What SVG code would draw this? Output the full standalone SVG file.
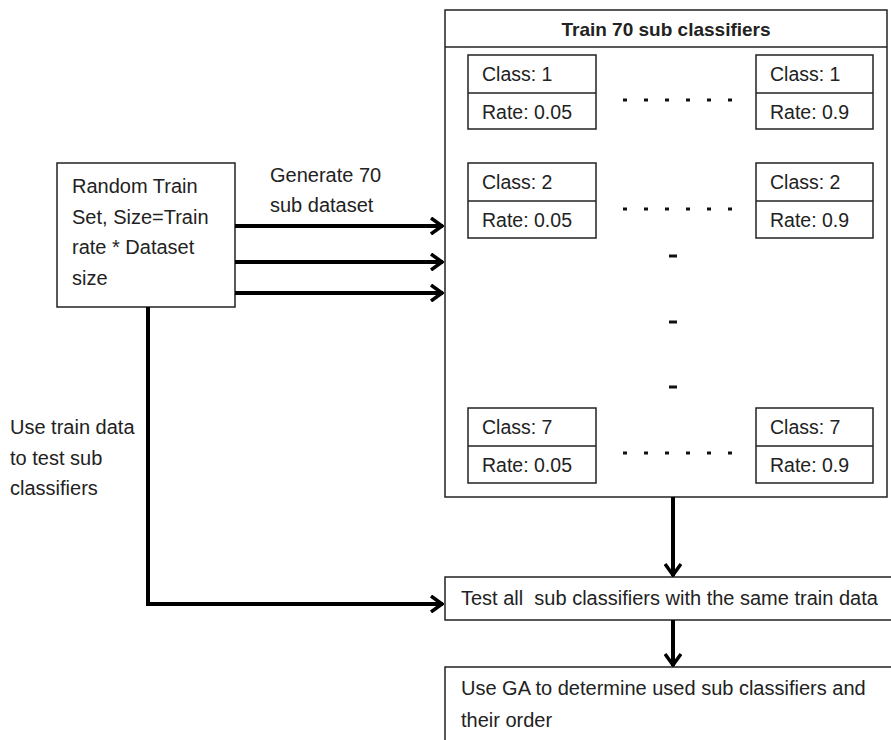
<svg xmlns="http://www.w3.org/2000/svg" width="891" height="740" viewBox="0 0 891 740">
<defs>
<style>
.box{fill:#fff;stroke:#222;stroke-width:1.5}
.t{font-family:"Liberation Sans",Arial,sans-serif;font-size:20px;fill:#222;dominant-baseline:central}
.s{font-size:19.5px}
.b{font-weight:bold;text-anchor:middle;font-size:19px}
.conn{fill:none;stroke:#000;stroke-width:4}
.dot{fill:#111}
</style>
<marker id="ah" viewBox="0 0 14 18" refX="13" refY="9" markerWidth="14" markerHeight="18" markerUnits="userSpaceOnUse" orient="auto">
<path d="M1,1 L12,9 L1,17" fill="none" stroke="#000" stroke-width="3.5"/>
</marker>
</defs>
<rect width="891" height="740" fill="#fff"/>

<g id="random-train-set">
<rect class="box" x="57" y="163" width="178" height="144"/>
<text class="t" x="72" y="186">Random Train</text>
<text class="t" x="72" y="217">Set, Size=Train</text>
<text class="t" x="72" y="247">rate * Dataset</text>
<text class="t" x="72" y="278">size</text>
</g>

<g id="train-70">
<rect class="box" x="445" y="10" width="442" height="487"/>
<line x1="445" y1="47" x2="887" y2="47" stroke="#222" stroke-width="1.5"/>
<text class="t b" x="666" y="29">Train 70 sub classifiers</text>
</g>

<g id="c1-005">
<rect class="box" x="468" y="55" width="128" height="74"/>
<line x1="468" y1="93" x2="596" y2="93" stroke="#222" stroke-width="1.5"/>
<text class="t s" x="482" y="74">Class: 1</text>
<text class="t s" x="482" y="112">Rate: 0.05</text>
</g>
<g id="c1-09">
<rect class="box" x="756" y="55" width="117" height="74"/>
<line x1="756" y1="93" x2="873" y2="93" stroke="#222" stroke-width="1.5"/>
<text class="t s" x="770" y="74">Class: 1</text>
<text class="t s" x="770" y="112">Rate: 0.9</text>
</g>
<g id="c2-005">
<rect class="box" x="468" y="163" width="128" height="75"/>
<line x1="468" y1="201" x2="596" y2="201" stroke="#222" stroke-width="1.5"/>
<text class="t s" x="482" y="182">Class: 2</text>
<text class="t s" x="482" y="220">Rate: 0.05</text>
</g>
<g id="c2-09">
<rect class="box" x="756" y="163" width="117" height="75"/>
<line x1="756" y1="201" x2="873" y2="201" stroke="#222" stroke-width="1.5"/>
<text class="t s" x="770" y="182">Class: 2</text>
<text class="t s" x="770" y="220">Rate: 0.9</text>
</g>
<g id="c7-005">
<rect class="box" x="468" y="408" width="128" height="75"/>
<line x1="468" y1="446" x2="596" y2="446" stroke="#222" stroke-width="1.5"/>
<text class="t s" x="482" y="427">Class: 7</text>
<text class="t s" x="482" y="465">Rate: 0.05</text>
</g>
<g id="c7-09">
<rect class="box" x="756" y="408" width="117" height="75"/>
<line x1="756" y1="446" x2="873" y2="446" stroke="#222" stroke-width="1.5"/>
<text class="t s" x="770" y="427">Class: 7</text>
<text class="t s" x="770" y="465">Rate: 0.9</text>
</g>

<g id="ellipses">
<g class="dot">
<rect x="623" y="98.5" width="4" height="3"/><rect x="644" y="98.5" width="4" height="3"/><rect x="665" y="98.5" width="4" height="3"/><rect x="686" y="98.5" width="4" height="3"/><rect x="707" y="98.5" width="4" height="3"/><rect x="728" y="98.5" width="4" height="3"/>
<rect x="623" y="207.5" width="4" height="3"/><rect x="644" y="207.5" width="4" height="3"/><rect x="665" y="207.5" width="4" height="3"/><rect x="686" y="207.5" width="4" height="3"/><rect x="707" y="207.5" width="4" height="3"/><rect x="728" y="207.5" width="4" height="3"/>
<rect x="623" y="451.5" width="4" height="3"/><rect x="644" y="451.5" width="4" height="3"/><rect x="665" y="451.5" width="4" height="3"/><rect x="686" y="451.5" width="4" height="3"/><rect x="707" y="451.5" width="4" height="3"/><rect x="728" y="451.5" width="4" height="3"/>
<rect x="669" y="254.5" width="8" height="3"/><rect x="669" y="320.5" width="8" height="3"/><rect x="669" y="385.5" width="8" height="3"/>
</g>
</g>

<g id="test-all">
<rect class="box" x="445" y="577" width="450" height="43"/>
<text class="t" x="461" y="598" xml:space="preserve" style="white-space:pre">Test all  sub classifiers with the same train data</text>
</g>

<g id="use-ga">
<rect class="box" x="445" y="667" width="450" height="80"/>
<text class="t" x="461" y="688">Use GA to determine used sub classifiers and</text>
<text class="t" x="461" y="720">their order</text>
</g>

<g id="labels">
<text class="t" x="270" y="175">Generate 70</text>
<text class="t" x="270" y="205">sub dataset</text>
<text class="t" x="10" y="427">Use train data</text>
<text class="t" x="10" y="458">to test sub</text>
<text class="t" x="10" y="488">classifiers</text>
</g>

<g id="connectors">
<path class="conn" d="M235,226 H443" marker-end="url(#ah)"/>
<path class="conn" d="M235,262 H443" marker-end="url(#ah)"/>
<path class="conn" d="M235,293 H443" marker-end="url(#ah)"/>
<path class="conn" d="M148,307 V604 H443" marker-end="url(#ah)"/>
<path class="conn" d="M673,497 V576" marker-end="url(#ah)"/>
<path class="conn" d="M673,620 V666" marker-end="url(#ah)"/>
</g>
</svg>
